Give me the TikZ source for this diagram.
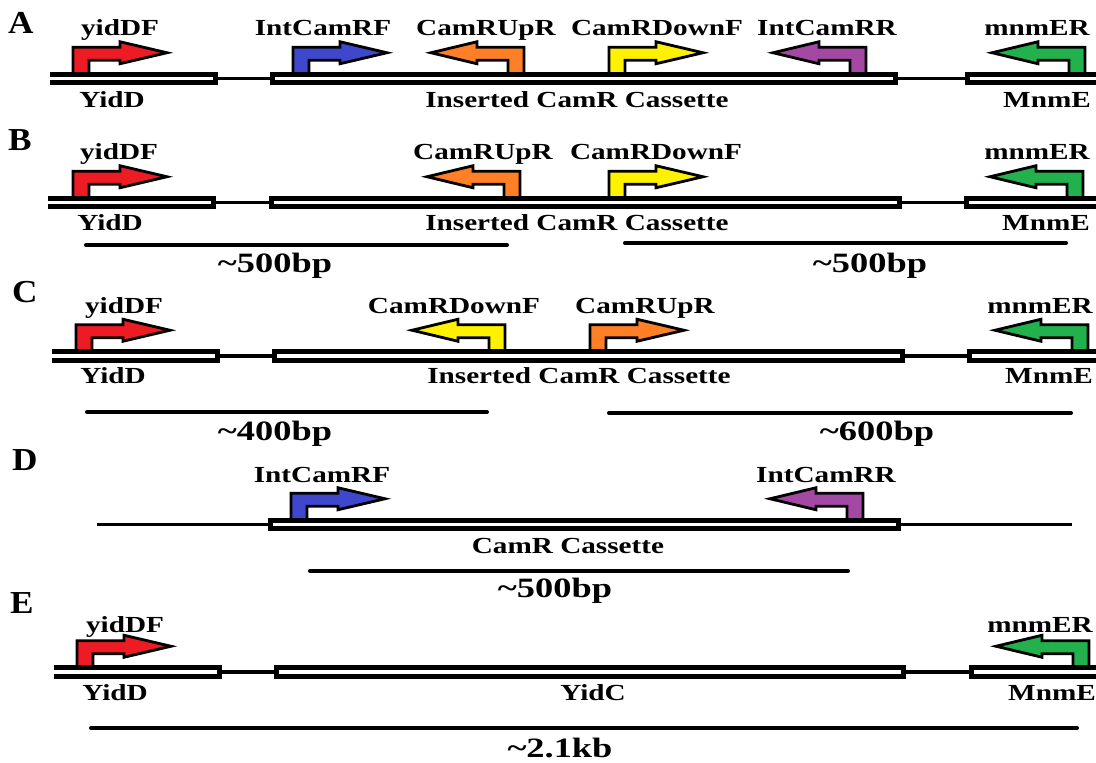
\documentclass[tikz,border=0pt]{standalone}
\usepackage{fontspec}
\setmainfont{Liberation Serif}[FakeStretch=1.27]
\newfontfamily\letterfont{Liberation Serif}[FakeStretch=1.1]
\newfontfamily\bigfont{Liberation Serif}[FakeStretch=1.3]
\definecolor{pred}{HTML}{ED1C24}
\definecolor{pblue}{HTML}{3F48CC}
\definecolor{porange}{HTML}{FF7F27}
\definecolor{pyellow}{HTML}{FFF200}
\definecolor{ppurple}{HTML}{A349A4}
\definecolor{pgreen}{HTML}{22B14C}
\tikzset{
  primer/.style={draw=black, line width=2.8pt, line join=miter},
  genebox/.style={draw=black, line width=5pt, line join=miter},
  dnaline/.style={draw=black, line width=3.5pt},
  scaleline/.style={draw=black, line width=4pt, line cap=round},
  lab/.style={font=\fontsize{23}{26}\selectfont\bfseries, inner sep=0pt, anchor=base},
  biglab/.style={font=\bigfont\fontsize{28}{32}\selectfont\bfseries, inner sep=0pt, anchor=base},
  panel/.style={font=\letterfont\fontsize{32}{36}\selectfont\bfseries, inner sep=0pt, anchor=base west},
}
% right-pointing primer: stem left x, row centre y, colour
\newcommand\primerR[3]{%
  \draw[primer, fill=#3] (#1,#2-4) -- (#1,#2-31.25) -- (#1+47,#2-31.25) -- (#1+47,#2-36.75)
    -- (#1+94,#2-25.75) -- (#1+47,#2-14.75) -- (#1+47,#2-18.25) -- (#1+16,#2-18.25)
    -- (#1+16,#2-4) -- cycle;}
% left-pointing primer: stem right x, row centre y, colour
\newcommand\primerL[3]{%
  \draw[primer, fill=#3] (#1,#2-4) -- (#1,#2-31.25) -- (#1-47,#2-31.25) -- (#1-47,#2-36.75)
    -- (#1-93,#2-25.75) -- (#1-47,#2-14.75) -- (#1-47,#2-18.25) -- (#1-16,#2-18.25)
    -- (#1-16,#2-4) -- cycle;}
% boxes: x1, x2, row centre
\newcommand\boxOpenL[3]{%
  \fill[white] (#1,#3-4.25) rectangle (#2,#3+4.25);
  \draw[genebox] (#1,#3-4.25) -- (#2,#3-4.25) -- (#2,#3+4.25) -- (#1,#3+4.25);}
\newcommand\boxShut[3]{%
  \draw[genebox, fill=white] (#1,#3-4.25) rectangle (#2,#3+4.25);}
\newcommand\boxOpenR[3]{%
  \fill[white] (#1,#3-4.25) rectangle (#2,#3+4.25);
  \draw[genebox] (#2,#3-4.25) -- (#1,#3-4.25) -- (#1,#3+4.25) -- (#2,#3+4.25);}
\begin{document}
\begin{tikzpicture}[x=1pt, y=-1pt]
\useasboundingbox[fill=white] (0,0) rectangle (1096,763);

% ---------------- Row A ----------------
\node[panel] (pA) at (8,33) {A};
\draw[dnaline] (215,78.5) -- (967,78.5);
\primerR{73}{78.5}{pred}
\primerR{293}{78.5}{pblue}
\primerL{524}{78.5}{porange}
\primerR{609}{78.5}{pyellow}
\primerL{866}{78.5}{ppurple}
\primerL{1085}{78.5}{pgreen}
\boxOpenL{50}{215}{78.5}
\boxShut{272}{895}{78.5}
\boxOpenR{967}{1096}{78.5}
\node[lab] (a1) at (120,35) {yidDF};
\node[lab] (a2) at (323,35) {IntCamRF};
\node[lab] (a3) at (486,35) {CamRUpR};
\node[lab] (a4) at (657,35) {CamRDownF};
\node[lab] (a5) at (827,35) {IntCamRR};
\node[lab] (a6) at (1037,35) {mnmER};
\node[lab] (a7) at (112,107) {YidD};
\node[lab] (a8) at (577,107) {Inserted CamR Cassette};
\node[lab] (a9) at (1047,107) {MnmE};

% ---------------- Row B ----------------
\node[panel] (pB) at (8,150) {B};
\draw[dnaline] (213,202.5) -- (966,202.5);
\primerR{73}{202.5}{pred}
\primerL{520}{202.5}{porange}
\primerR{609}{202.5}{pyellow}
\primerL{1083}{202.5}{pgreen}
\boxOpenL{48}{213}{202.5}
\boxShut{271}{899}{202.5}
\boxOpenR{966}{1096}{202.5}
\node[lab] (b1) at (119,159) {yidDF};
\node[lab] (b2) at (483,159) {CamRUpR};
\node[lab] (b3) at (656,159) {CamRDownF};
\node[lab] (b4) at (1037,159) {mnmER};
\node[lab] (b5) at (110,230) {YidD};
\node[lab] (b6) at (577,230) {Inserted CamR Cassette};
\node[lab] (b7) at (1046,230) {MnmE};
\coordinate (bl1) at (86,245); \coordinate (bl2) at (507,245);
\coordinate (br1) at (625,243); \coordinate (br2) at (1066,243);
\draw[scaleline] (bl1) -- (bl2);
\draw[scaleline] (br1) -- (br2);
\node[biglab] (b8) at (275,272) {\textasciitilde500bp};
\node[biglab] (b9) at (870,272) {\textasciitilde500bp};

% ---------------- Row C ----------------
\node[panel] (pC) at (12,302) {C};
\draw[dnaline] (217,356) -- (969,356);
\primerR{76}{356}{pred}
\primerL{505}{356}{pyellow}
\primerR{590}{356}{porange}
\primerL{1088}{356}{pgreen}
\boxOpenL{52}{217}{356}
\boxShut{274}{902}{356}
\boxOpenR{969}{1096}{356}
\node[lab] (c1) at (124,313) {yidDF};
\node[lab] (c2) at (454,313) {CamRDownF};
\node[lab] (c3) at (645,313) {CamRUpR};
\node[lab] (c4) at (1040,313) {mnmER};
\node[lab] (c5) at (113,383) {YidD};
\node[lab] (c6) at (579,383) {Inserted CamR Cassette};
\node[lab] (c7) at (1049,383) {MnmE};
\coordinate (cl1) at (87,412); \coordinate (cl2) at (487,412);
\coordinate (cr1) at (609,413); \coordinate (cr2) at (1071,413);
\draw[scaleline] (cl1) -- (cl2);
\draw[scaleline] (cr1) -- (cr2);
\node[biglab] (c8) at (275,440) {\textasciitilde400bp};
\node[biglab] (c9) at (877,440) {\textasciitilde600bp};

% ---------------- Row D ----------------
\node[panel] (pD) at (12,470) {D};
\draw[dnaline] (97,524.5) -- (1072,524.5);
\primerR{291}{524.5}{pblue}
\primerL{863}{524.5}{ppurple}
\boxShut{270}{898}{524.5}
\node[lab] (d1) at (322,482) {IntCamRF};
\node[lab] (d2) at (826,482) {IntCamRR};
\node[lab] (d3) at (568,553) {CamR Cassette};
\coordinate (dl1) at (310,571); \coordinate (dl2) at (848,571);
\draw[scaleline] (dl1) -- (dl2);
\node[biglab] (d4) at (555,597) {\textasciitilde500bp};

% ---------------- Row E ----------------
\node[panel] (pE) at (10,613) {E};
\draw[dnaline] (219,672) -- (971,672);
\primerR{77}{672}{pred}
\primerL{1089}{672}{pgreen}
\boxOpenL{54}{219}{672}
\boxShut{276}{903}{672}
\boxOpenR{971}{1096}{672}
\node[lab] (e1) at (125,632) {yidDF};
\node[lab] (e2) at (1040,632) {mnmER};
\node[lab] (e3) at (115,700) {YidD};
\node[lab] (e4) at (593,700) {YidC};
\node[lab] (e5) at (1052,700) {MnmE};
\coordinate (el1) at (91,728); \coordinate (el2) at (1077,728);
\draw[scaleline] (el1) -- (el2);
\node[biglab] (e6) at (560,757) {\textasciitilde2.1kb};
\end{tikzpicture}
\end{document}
